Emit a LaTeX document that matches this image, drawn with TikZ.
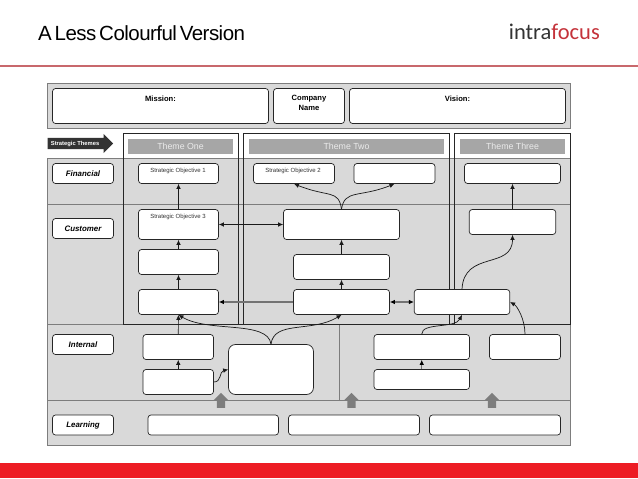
\documentclass[tikz,border=0pt]{standalone}
\usepackage{fontspec}
\setmainfont{Liberation Sans}
\newfontfamily\logofont{Carlito}
\newfontfamily\titlefont[LetterSpace=-2.6,WordSpace=0.55]{Liberation Sans}
\usetikzlibrary{shapes.arrows,arrows.meta}
\definecolor{panel}{RGB}{217,217,217}
\definecolor{panelline}{RGB}{125,125,125}
\definecolor{themegrey}{RGB}{166,166,166}
\definecolor{ruleline}{RGB}{200,104,108}
\definecolor{barred}{RGB}{237,28,36}
\definecolor{logored}{RGB}{196,50,58}
\tikzset{
    >={Latex[length=5pt,width=4.6pt]},
    objbox/.style={draw=black!85,fill=white,rounded corners=3pt,line width=0.7pt,inner sep=0pt},
    perspective/.style={objbox,minimum width=61,minimum height=20,font=\bfseries\itshape\fontsize{7.9}{9}\selectfont},
    headtext/.style={font=\bfseries\fontsize{7.6}{10}\selectfont,align=center,inner sep=0pt},
    objtext/.style={font=\fontsize{6}{7}\selectfont,text=black!80,inner sep=0pt},
    themehead/.style={fill=themegrey,text=white!92!black,font=\fontsize{8.8}{10}\selectfont,minimum height=14.5,inner sep=0pt},
    uparrow/.style={single arrow,fill=panelline,shape border rotate=90,minimum height=15,
        single arrow head extend=3.5pt,inner sep=0pt},
    link/.style={->,line width=0.7pt,black!90},
    twolink/.style={<->,line width=0.7pt,black!90},
    greylink/.style={>={Latex[length=5pt,width=4.6pt,black]},->,line width=1.1pt,black!55},
}
\begin{document}
\begin{tikzpicture}[x=1pt,y=-1pt]
        \useasboundingbox (0,0) rectangle (638,479);

        \node[anchor=base west,inner sep=0pt,font=\titlefont\fontsize{20.5}{24}\selectfont,text=black] (title) at (38,41) {A Less Colourful Version};
        \node[anchor=base east,inner sep=0pt,font=\logofont\fontsize{22.5}{26}\selectfont] (logo) at (600,39) {\textcolor{black!80}{intra}\textcolor{logored}{focus}};
        \fill[ruleline] (0,65) rectangle (638,67);
        \fill[barred] (0,463) rectangle (638,478);

        \draw[panelline,fill=panel] (47.5,83.5) rectangle (570.5,128);
        \draw[panelline,fill=panel] (47.5,158.5) rectangle (570.5,445.5);
        \draw[panelline] (47.5,204.5) -- (570.5,204.5);
        \draw[panelline] (47.5,324.5) -- (123.5,324.5);
        \draw[panelline] (47.5,400.5) -- (570.5,400.5);
        \draw[panelline] (339.5,324.5) -- (339.5,400.5);

        \draw[black!85,line width=0.7pt] (123.5,133.5) rectangle (238.5,324.5);
        \draw[black!85,line width=0.7pt] (243.5,133.5) rectangle (449.5,324.5);
        \draw[black!85,line width=0.7pt] (454.5,133.5) rectangle (570.5,324.5);
        \draw[black!85,line width=0.7pt] (123.5,324.5) -- (570.5,324.5);

        \node[themehead,minimum width=105] (themeone) at (180.5,146.5) {Theme One};
        \node[themehead,minimum width=195] (themetwo) at (346.5,146.5) {Theme Two};
        \node[themehead,minimum width=105] (themethree) at (512.5,146.5) {Theme Three};
        \node[single arrow,fill=black!80,text=white,minimum height=65.5,single arrow head extend=4pt,
            inner sep=0pt,anchor=west,font=\bfseries\fontsize{5.8}{6}\selectfont] (themes) at (47.5,143.5) {\rule[-4pt]{0pt}{11pt}\hspace{-5pt}Strategic Themes\hspace{5pt}};

        \node[objbox,minimum width=216,minimum height=35] (mission) at (160.5,106) {};
        \node[objbox,minimum width=71,minimum height=35] (company) at (309,106) {};
        \node[objbox,minimum width=216,minimum height=35] (vision) at (457.5,106) {};
        \node[headtext] (missiontext) at (160.5,98.5) {Mission:};
        \node[headtext] (companytext) at (309,103) {Company\\Name};
        \node[headtext] (visiontext) at (457.5,98.5) {Vision:};

        \node[perspective] (financial) at (83,173.5) {Financial};
        \node[perspective] (customer) at (83,228.5) {Customer};
        \node[perspective] (internal) at (83,344.5) {Internal};
        \node[perspective] (learning) at (83,425) {Learning};

        \node[objbox,minimum width=80,minimum height=20] (obja) at (178.5,173.5) {};
        \node[objbox,minimum width=81,minimum height=20] (objb) at (294,173.5) {};
        \node[objbox,minimum width=81,minimum height=20] (objc) at (394.5,173.5) {};
        \node[objbox,minimum width=96,minimum height=20] (objd) at (512.5,173.5) {};
        \node[objtext] (objatext) at (178,170.5) {Strategic Objective 1};
        \node[objtext] (objbtext) at (293,170.5) {Strategic Objective 2};

        \node[objbox,minimum width=80,minimum height=30] (cusa) at (178.5,224.5) {};
        \node[objtext] (cusatext) at (178,216.5) {Strategic Objective 3};
        \node[objbox,minimum width=80,minimum height=25] (cusb) at (178.5,262) {};
        \node[objbox,minimum width=80,minimum height=25] (cusc) at (178.5,302) {};
        \node[objbox,minimum width=116,minimum height=30] (cusd) at (341.5,224.5) {};
        \node[objbox,minimum width=96,minimum height=25] (cuse) at (341.5,267) {};
        \node[objbox,minimum width=96,minimum height=25] (cusf) at (341.5,302) {};
        \node[objbox,minimum width=95.5,minimum height=25] (cusg) at (462,302) {};
        \node[objbox,minimum width=86.5,minimum height=25] (cush) at (512.5,222) {};

        \node[objbox,minimum width=70.5,minimum height=25] (inta) at (178.25,347) {};
        \node[objbox,minimum width=70.5,minimum height=25] (intb) at (178.25,382) {};
        \node[objbox,minimum width=85,minimum height=50,rounded corners=7pt] (intc) at (271,369.5) {};
        \node[objbox,minimum width=95.5,minimum height=25] (intd) at (421.75,347) {};
        \node[objbox,minimum width=95.5,minimum height=20] (inte) at (421.75,379.5) {};
        \node[objbox,minimum width=71,minimum height=25] (intf) at (525,347) {};

        \node[objbox,minimum width=130.5,minimum height=20] (leaa) at (213.25,425) {};
        \node[objbox,minimum width=131,minimum height=20] (leab) at (354,425) {};
        \node[objbox,minimum width=131,minimum height=20] (leac) at (495,425) {};

        \node[uparrow] (upa) at (221,402.5) {\phantom{\rule{8pt}{8pt}}};
        \node[uparrow] (upb) at (351.5,402.5) {\phantom{\rule{8pt}{8pt}}};
        \node[uparrow] (upc) at (492,402.5) {\phantom{\rule{8pt}{8pt}}};

        \draw[link] (cusa) -- (obja);
        \draw[link] (cusb) -- (cusa);
        \draw[link] (cusc) -- (cusb);
        \draw[link] (inta) -- (cusc);
        \draw[link] (intb) -- (inta);
        \draw[link] (cuse) -- (cusd);
        \draw[link] (cusf) -- (cuse);
        \draw[link] (cush) -- (objd);
        \draw[greylink,line width=0.9pt] (inte) -- (intd);
        \draw[twolink] (cusa) -- (cusd);
        \draw[greylink] (cusf) -- (cusc);
        \draw[greylink,<->] (cusf) -- (cusg);

        \draw[link] (cusd.north) .. controls +(-3,-20) and +(35,14) .. (objb.south);
        \draw[link] (cusd.north) .. controls +(3,-20) and +(-35,14) .. (objc.south);
        \draw[link] (intc.north) .. controls +(-3,-24) and +(30,18) .. (cusc.south);
        \draw[link] (intc.north) .. controls +(3,-24) and +(-30,18) .. (cusf.south);
        \draw[link] (intb.east) .. controls +(8,0) and +(-9,2) .. (intc.west);
        \draw[link] (intd.north) .. controls +(0,-12) and +(-7,14) .. (cusg.south);
        \draw[link] (cusg.north) .. controls +(2,-39) and +(0,35) .. (cush.south);
        \draw[link] (intf.north) .. controls +(0,-15) and +(7,4) .. (cusg.east);
    \end{tikzpicture}
\end{document}
